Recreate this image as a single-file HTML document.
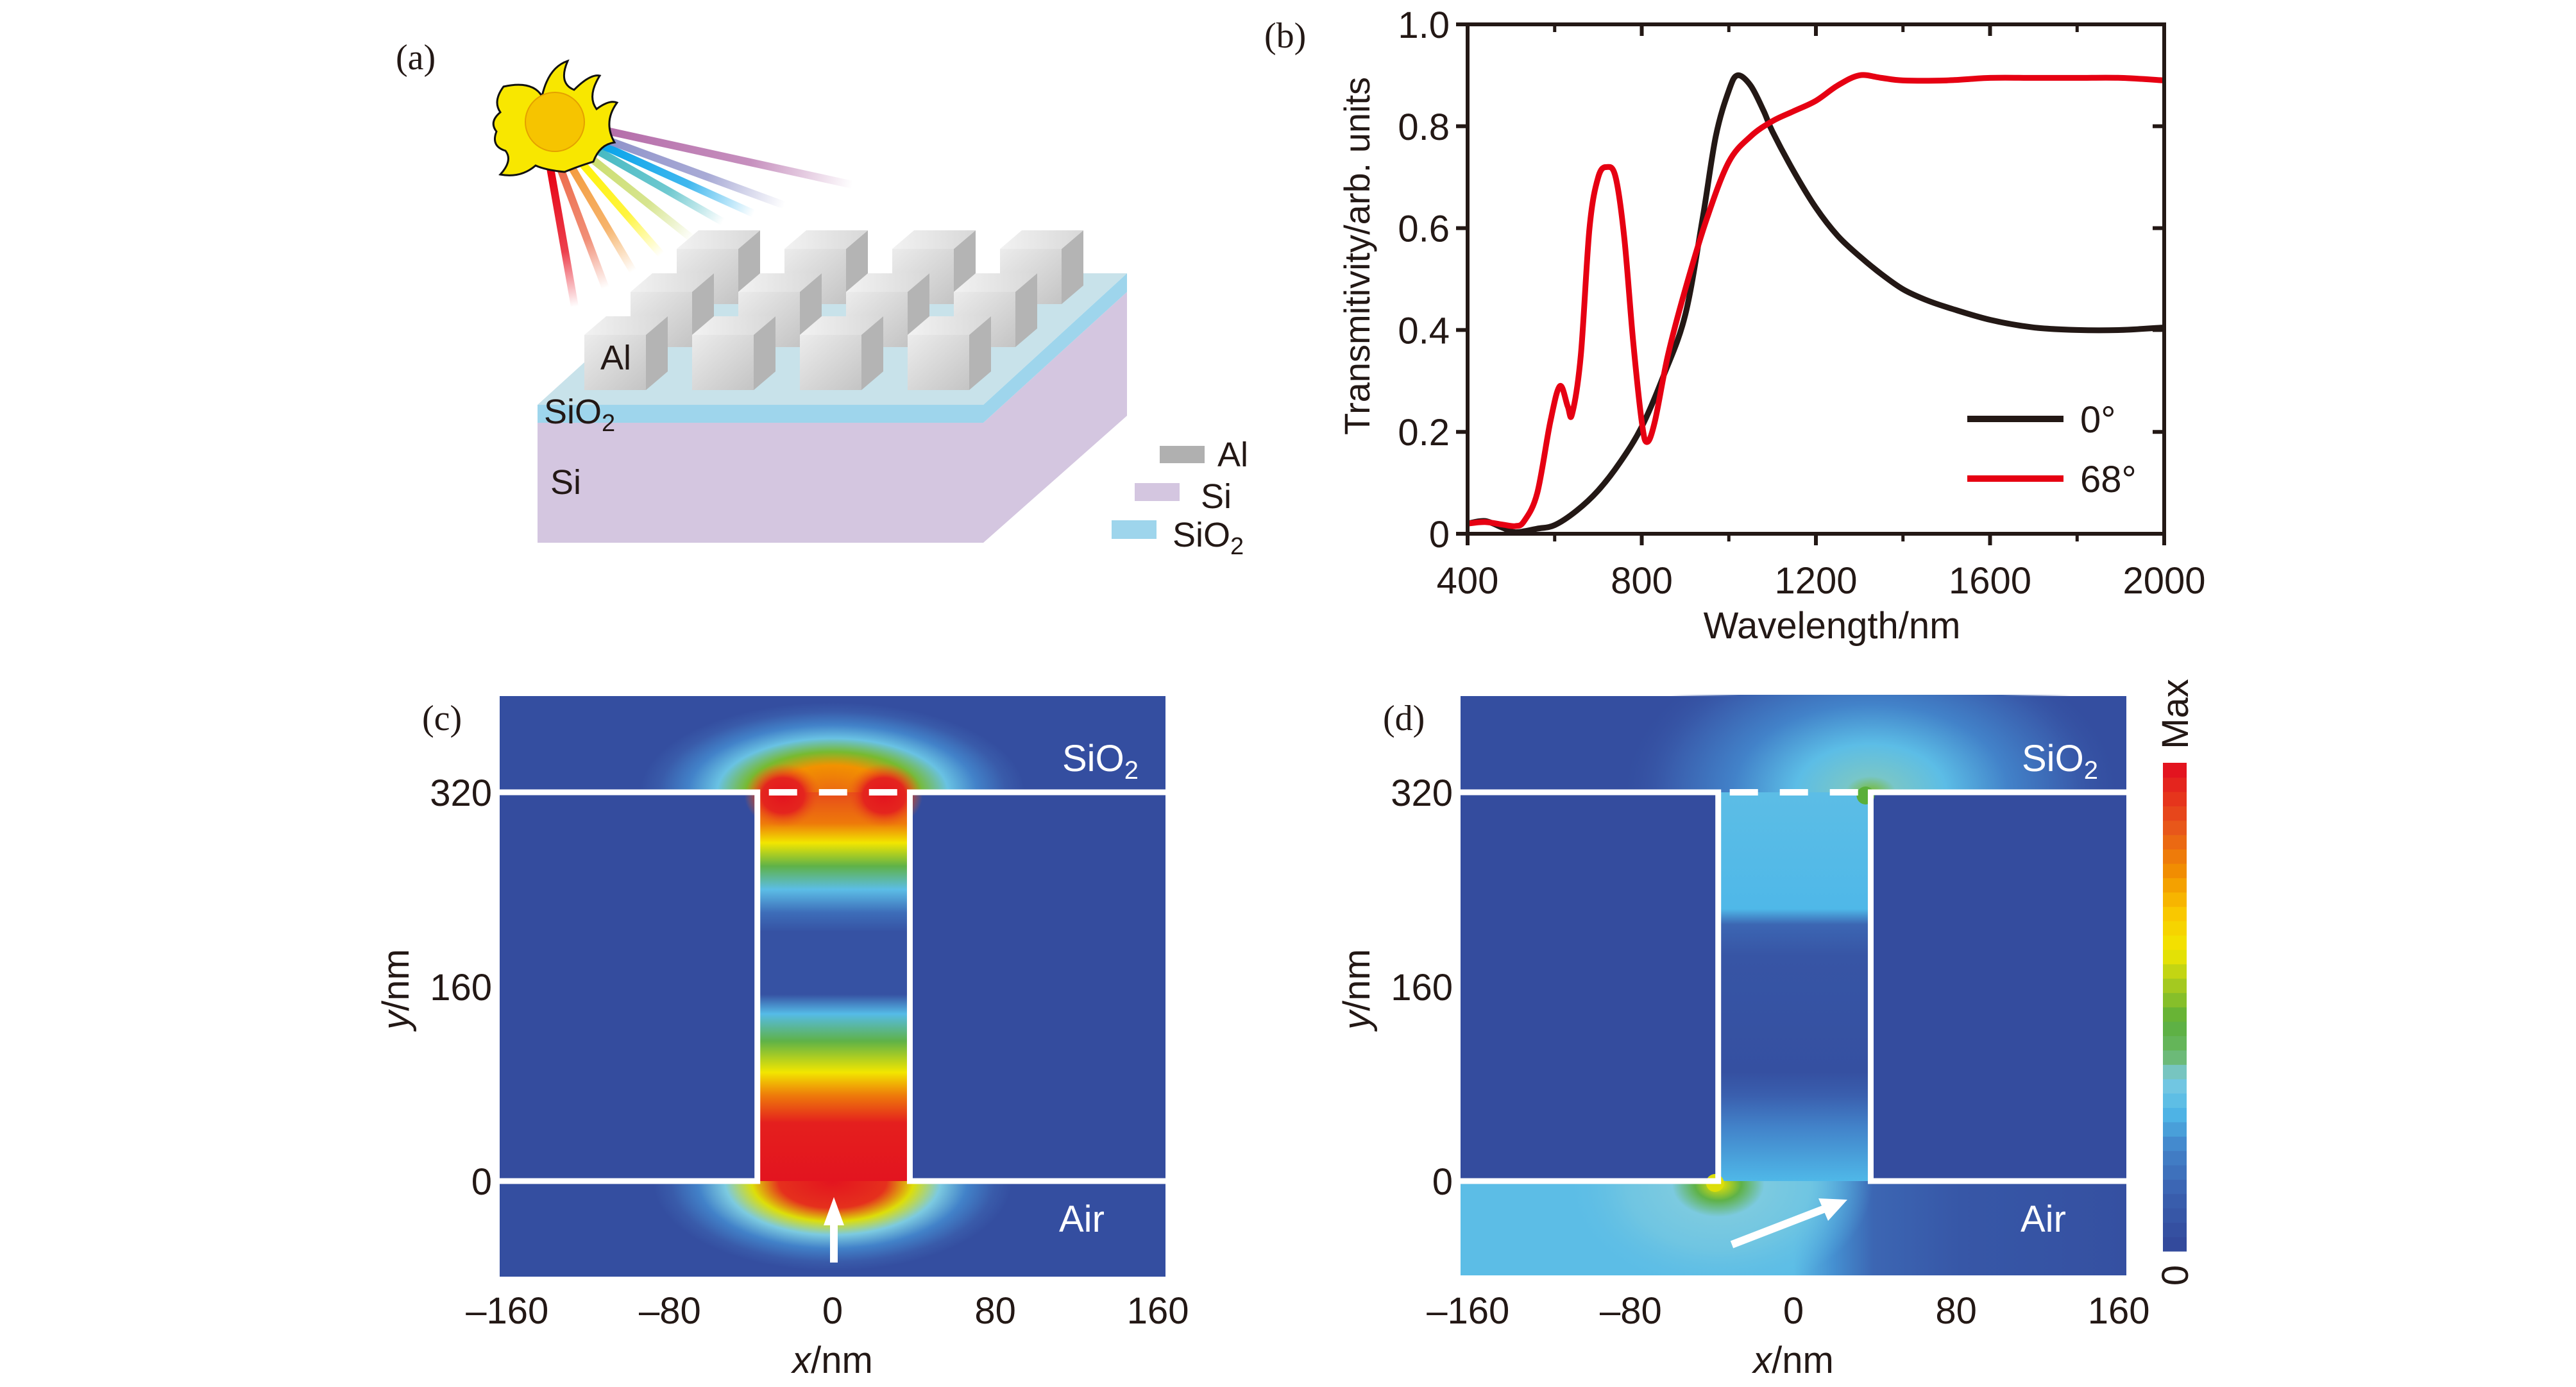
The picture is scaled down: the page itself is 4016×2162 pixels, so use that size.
<!DOCTYPE html>
<html><head><meta charset="utf-8">
<style>
html,body{margin:0;padding:0;background:#fff;}
svg{display:block;}
text{font-family:"Liberation Sans",sans-serif;}
.serif{font-family:"Liberation Serif",serif;}
</style></head>
<body>
<svg id="fig" width="4016" height="2162" viewBox="0 0 4016 2162" xmlns="http://www.w3.org/2000/svg">
<defs>
  <linearGradient id="cubeFront" x1="0" y1="0" x2="1" y2="1">
    <stop offset="0" stop-color="#ececec"/><stop offset="1" stop-color="#c4c4c4"/>
  </linearGradient>
  <linearGradient id="cubeTop" x1="0" y1="0" x2="1" y2="0">
    <stop offset="0" stop-color="#f2f2f2"/><stop offset="1" stop-color="#d8d8d8"/>
  </linearGradient>
  <clipPath id="clipC"><rect x="779" y="1085" width="1038" height="905"/></clipPath>
  <clipPath id="clipD"><rect x="2277" y="1083" width="1038" height="905"/></clipPath>
</defs>

<g id="panelA">
  <text class="serif" x="617" y="108" font-size="56" fill="#231815">(a)</text>
  <g id="rays"></g>
  <g>
    <path d="M785,135 Q830,125 845,150 Q855,105 885,95 Q870,130 895,140 Q920,115 935,118 Q915,150 930,170 Q950,155 962,160 Q940,190 958,222 Q935,225 925,252 Q905,258 880,268 Q850,265 835,258 Q812,278 780,272 Q800,250 788,235 Q765,228 774,205 Q762,190 780,175 Q768,158 785,135 Z" fill="#f8e700" stroke="#111" stroke-width="3"/>
    <circle cx="865" cy="190" r="46" fill="#f6c400" stroke="#e4a000" stroke-width="2"/>
  </g>
  <polygon points="838,659 1533,659 1533,846 838,846" fill="#d4c6e0"/>
  <polygon points="1533,659 1757,455 1757,648 1533,846" fill="#d4c6e0"/>
  <polygon points="838,631 1533,631 1533,659 838,659" fill="#9ed5ec"/>
  <polygon points="1533,631 1757,426 1757,455 1533,659" fill="#9ed5ec"/>
  <polygon points="838,631 1533,631 1757,426 1064,426" fill="#c8e2ea"/>
  <g id="cubes"></g>
  <text x="936" y="576" font-size="54" fill="#231815">Al</text>
  <text x="848" y="660" font-size="54" fill="#231815">SiO<tspan font-size="38" dy="12">2</tspan></text>
  <text x="858" y="770" font-size="54" fill="#231815">Si</text>
  <g>
    <rect x="1808" y="695" width="70" height="27" fill="#b0b0b0"/>
    <text x="1898" y="727" font-size="54" fill="#231815">Al</text>
    <rect x="1769" y="753" width="70" height="28" fill="#d4c6e0"/>
    <text x="1872" y="792" font-size="54" fill="#231815">Si</text>
    <rect x="1733" y="811" width="70" height="29" fill="#9ed5ec"/>
    <text x="1828" y="852" font-size="54" fill="#231815">SiO<tspan font-size="38" dy="12">2</tspan></text>
  </g>
</g>

<g id="panelB"></g>
<g id="panelC"></g>
<g id="panelD"></g>
</svg>

<script>
const xTicksB = [400, 800, 1200, 1600, 2000];
const yTicksB = [0, 0.2, 0.4, 0.6, 0.8, 1.0];
const yTickLabelsB = ["0", "0.2", "0.4", "0.6", "0.8", "1.0"];
const wl0 = [400,440,480,510,560,600,650,700,750,800,850,900,940,970,1000,1020,1050,1080,1100,1150,1200,1250,1300,1350,1400,1450,1500,1600,1700,1800,1900,2000];
const t0  = [0.02,0.025,0.012,0.003,0.01,0.017,0.045,0.085,0.14,0.21,0.31,0.43,0.62,0.78,0.87,0.90,0.88,0.83,0.79,0.71,0.64,0.585,0.545,0.51,0.48,0.46,0.445,0.42,0.405,0.40,0.40,0.405];
const wl68 = [400,440,480,510,530,560,590,612,630,640,660,680,700,720,740,760,780,800,812,830,860,900,950,1000,1050,1100,1150,1200,1250,1300,1350,1400,1500,1600,1700,1800,1900,2000];
const t68  = [0.02,0.023,0.018,0.015,0.025,0.08,0.22,0.29,0.25,0.235,0.35,0.60,0.70,0.72,0.70,0.58,0.38,0.22,0.18,0.22,0.35,0.48,0.62,0.73,0.78,0.81,0.83,0.85,0.88,0.90,0.895,0.89,0.89,0.895,0.895,0.895,0.895,0.89];
const seriesNames = ["0°", "68°"];
const xTicksMap = [-160, -80, 0, 80, 160];
const xTickLabelsMap = ["\u2013160", "\u201380", "0", "80", "160"];
const yTicksMap = [0, 160, 320];
const gapEdgesNm = [-37, 38];

const NS = "http://www.w3.org/2000/svg";
function el(tag, attrs, parent){ const e=document.createElementNS(NS,tag); for(const k in attrs) e.setAttribute(k,attrs[k]); if(parent) parent.appendChild(e); return e; }
function txt(parent, x, y, s, size, anchor, extra){ const t=el('text',Object.assign({x:x,y:y,'font-size':size,'text-anchor':anchor||'start',fill:'#231815'},extra||{}),parent); t.textContent=s; return t; }

(function(){
  const rays=document.getElementById('rays');
  const defs=document.querySelector('defs');
  const R=[["#e60012",858,262,896,478],["#ec6a4a",872,258,944,449],["#f39a3a",886,252,987,423],["#fff100",898,244,1031,397],["#c9dc6a",908,236,1079,372],["#40b7c0",916,226,1127,346],["#00a0e9",920,218,1175,333],["#8c8fc8",924,210,1223,320],["#b36aa8",928,200,1329,288]];
  R.forEach((r,i)=>{
    const g=el('linearGradient',{id:'ray'+i,gradientUnits:'userSpaceOnUse',x1:r[1],y1:r[2],x2:r[3],y2:r[4]},defs);
    el('stop',{offset:0,'stop-color':r[0],'stop-opacity':1},g);
    el('stop',{offset:0.6,'stop-color':r[0],'stop-opacity':0.75},g);
    el('stop',{offset:1,'stop-color':r[0],'stop-opacity':0},g);
    const l=el('line',{x1:r[1],y1:r[2],x2:r[3],y2:r[4],stroke:'url(#ray'+i+')','stroke-width':12},rays);
    
    
  });
  const cubes=document.getElementById('cubes');
  const w=96,h=86,dx=34,dy=-29;
  for(let row=2;row>=0;row--){
    for(let c=0;c<4;c++){
      const x=911+row*72+c*168, y=522-row*67;
      const g=el('g',{},cubes);
      
      
      el('polygon',{points:`${x+w},${y} ${x+w+dx},${y+dy} ${x+w+dx},${y+h+dy} ${x+w},${y+h}`,fill:'#b4b4b4'},g);
      el('polygon',{points:`${x},${y} ${x+dx},${y+dy} ${x+w+dx},${y+dy} ${x+w},${y}`,fill:'url(#cubeTop)'},g);
      el('rect',{x:x,y:y,width:w,height:h,fill:'url(#cubeFront)'},g);
    }
  }
})();

(function(){
  const P=document.getElementById('panelB');
  const L=2288,R=3374,T=38,B=832;
  const sx=v=>L+(v-400)/(2000-400)*(R-L);
  const sy=v=>B-(v-0)/(1-0)*(B-T);
  const lab=txt(P,1971,74,'(b)',56,'start',{class:'serif'});
   
  function path(xs,ys){
    const p=xs.map((x,i)=>[sx(x),sy(ys[i])]);
    let d=`M${p[0][0]},${p[0][1]}`;
    for(let i=0;i<p.length-1;i++){
      const p0=p[Math.max(0,i-1)],p1=p[i],p2=p[i+1],p3=p[Math.min(p.length-1,i+2)];
      const c1=[p1[0]+(p2[0]-p0[0])/6,p1[1]+(p2[1]-p0[1])/6];
      const c2=[p2[0]-(p3[0]-p1[0])/6,p2[1]-(p3[1]-p1[1])/6];
      d+=` C${c1[0]},${c1[1]} ${c2[0]},${c2[1]} ${p2[0]},${p2[1]}`;
    }
    return d;
  }
  const s0=el('path',{d:path(wl0,t0),fill:'none',stroke:'#231815','stroke-width':9,'stroke-linejoin':'round'},P);
   
  const s1=el('path',{d:path(wl68,t68),fill:'none',stroke:'#e60012','stroke-width':9,'stroke-linejoin':'round'},P);
   
  const frame=el('rect',{x:L,y:T,width:R-L,height:B-T,fill:'none',stroke:'#231815','stroke-width':6},P);
   
  xTicksB.forEach(v=>{
    const x=sx(v);
    el('line',{x1:x,y1:B,x2:x,y2:B+18,stroke:'#231815','stroke-width':6},P);
    el('line',{x1:x,y1:T,x2:x,y2:T+18,stroke:'#231815','stroke-width':6},P);
    const t=txt(P,x,925,String(v),58,'middle');
     
  });
  for(let v=600;v<2000;v+=400){ const x=sx(v); el('line',{x1:x,y1:B,x2:x,y2:B+12,stroke:'#231815','stroke-width':5},P); el('line',{x1:x,y1:T,x2:x,y2:T+12,stroke:'#231815','stroke-width':5},P);}
  yTicksB.forEach((v,i)=>{
    const y=sy(v);
    el('line',{x1:L-18,y1:y,x2:L,y2:y,stroke:'#231815','stroke-width':6},P);
    el('line',{x1:R-18,y1:y,x2:R,y2:y,stroke:'#231815','stroke-width':6},P);
    const t=txt(P,L-28,y+21,yTickLabelsB[i],58,'end');
     
  });
  const xt=txt(P,2856,995,'Wavelength/nm',58,'middle');
   
  const yt=txt(P,0,0,'Transmitivity/arb. units',56,'middle',{transform:'translate(2135,399) rotate(-90)'});
   
  const cols=['#231815','#e60012'], ly=[653,746];
  seriesNames.forEach((n,i)=>{
    const g=el('g',{},P);
     
    el('line',{x1:3067,y1:ly[i],x2:3217,y2:ly[i],stroke:cols[i],'stroke-width':10},g);
    txt(g,3243,ly[i]+21,n,58,'start');
  });
})();

const cmStops=[[0,'#334a9c'],[0.1,'#3a5fae'],[0.2,'#4282c9'],[0.28,'#4fb8e8'],[0.35,'#7ccae0'],[0.4,'#6ab86a'],[0.47,'#5aaf3a'],[0.55,'#a8cb1e'],[0.62,'#f2e600'],[0.7,'#f9c700'],[0.78,'#f29200'],[0.88,'#e8561a'],[1,'#e3141f']];
function hex(c){return [1,3,5].map(i=>parseInt(c.substr(i,2),16));}
function cm(t){ t=Math.max(0,Math.min(1,t)); for(let i=0;i<cmStops.length-1;i++){ const a=cmStops[i],b=cmStops[i+1]; if(t<=b[0]){ const f=(t-a[0])/(b[0]-a[0]); const A=hex(a[1]),B=hex(b[1]); return 'rgb('+A.map((v,k)=>Math.round(v+(B[k]-v)*f)).join(',')+')'; } } return cmStops[cmStops.length-1][1]; }
function grad(type,id,attrs,stops){ const defs=document.querySelector('defs'); const g=el(type,Object.assign({id:id},attrs),defs); stops.forEach(s=>el('stop',{offset:s[0],'stop-color':typeof s[1]==='number'?cm(s[1]):s[1],'stop-opacity':s[2]===undefined?1:s[2]},g)); return g; }

function mapPanel(P, L, tag){
  const R=L+1038, T=1085, B=1989;
  const sx=v=>L+519+v*3.17;
  const y0=1841, y320=1235;
  const sy=v=>y0-v*(y0-y320)/320;
  const lab=txt(P,L-121,1138,'('+tag+')',56,'start',{class:'serif'});
   
  xTicksMap.forEach((v,i)=>{ const t=txt(P,sx(v),2063,xTickLabelsMap[i],58,'middle');   });
  yTicksMap.forEach(v=>{ const t=txt(P,L-12,sy(v)+21,String(v),58,'end');   });
  const xt=el('text',{x:sx(0),y:2140,'font-size':58,'text-anchor':'middle',fill:'#231815'},P);
  xt.innerHTML='<tspan font-style="italic">x</tspan>/nm';
   
  const yt=el('text',{'font-size':58,'text-anchor':'middle',fill:'#231815',transform:`translate(${L-142},1542) rotate(-90)`},P);
  yt.innerHTML='<tspan font-style="italic">y</tspan>/nm';
   
  return {L,R,T,B,sx,sy,y0,y320};
}
function structure(P,m){
  const g=el('g',{},P);
   
  const xl=m.sx(gapEdgesNm[0]), xr=m.sx(gapEdgesNm[1]);
  el('polyline',{points:`${m.L},${m.y320} ${xl},${m.y320} ${xl},${m.y0} ${m.L},${m.y0}`,fill:'none',stroke:'#fff','stroke-width':9},g);
  el('polyline',{points:`${m.R},${m.y320} ${xr},${m.y320} ${xr},${m.y0} ${m.R},${m.y0}`,fill:'none',stroke:'#fff','stroke-width':9},g);
  el('line',{x1:xl+18,y1:m.y320,x2:xr-10,y2:m.y320,stroke:'#fff','stroke-width':10,'stroke-dasharray':'44 34'},g);
}

(function(){
  const P=document.getElementById('panelC');
  const m=mapPanel(P,779,'c');
  const g=el('g',{'clip-path':'url(#clipC)'},P);
   
  el('rect',{x:m.L,y:m.T,width:1038,height:905,fill:cm(0.02)},g);
  grad('radialGradient','glowTopC',{},[[0,0.85],[0.3,0.78],[0.45,0.5],[0.6,0.32],[0.75,0.2],[0.9,0.08],[1,0.02]]);
  grad('radialGradient','glowBotC',{},[[0,1],[0.3,0.95],[0.45,0.6],[0.6,0.35],[0.75,0.2],[0.9,0.08],[1,0.02]]);
  grad('radialGradient','redSpot',{},[[0,1,1],[0.55,0.97,1],[1,0.85,0]]);
  el('ellipse',{cx:m.sx(0),cy:m.y320,rx:300,ry:140,fill:'url(#glowTopC)'},g);
  el('ellipse',{cx:m.sx(0),cy:m.y0,rx:280,ry:140,fill:'url(#glowBotC)'},g);
  const xl=m.sx(gapEdgesNm[0]), xr=m.sx(gapEdgesNm[1]);
  el('rect',{x:m.L,y:m.y320,width:xl-m.L,height:m.y0-m.y320,fill:cm(0.01)},g);
  el('rect',{x:xr,y:m.y320,width:m.R-xr,height:m.y0-m.y320,fill:cm(0.01)},g);
  grad('linearGradient','gapC',{x1:0,y1:0,x2:0,y2:1},[[0,0.9],[0.08,0.82],[0.13,0.62],[0.19,0.45],[0.25,0.3],[0.31,0.14],[0.36,0.04],[0.52,0.04],[0.57,0.29],[0.64,0.45],[0.72,0.62],[0.78,0.82],[0.85,0.98],[1,1]]);
  el('rect',{x:xl,y:m.y320,width:xr-xl,height:m.y0-m.y320,fill:'url(#gapC)'},g);
  el('ellipse',{cx:xl+40,cy:m.y320+5,rx:60,ry:50,fill:'url(#redSpot)'},g);
  el('ellipse',{cx:xr-40,cy:m.y320+5,rx:60,ry:50,fill:'url(#redSpot)'},g);
  structure(P,m);
  const s=txt(P,1656,1202,'SiO',58,'start',{fill:'#fff'}); s.innerHTML='SiO<tspan font-size="40" dy="12">2</tspan>';
   
  const a=txt(P,1651,1920,'Air',58,'start',{fill:'#fff'});
   
  const ar=el('g',{},P);
   
  el('line',{x1:1300,y1:1968,x2:1300,y2:1900,stroke:'#fff','stroke-width':12},ar);
  el('polygon',{points:'1300,1866 1284,1910 1316,1910',fill:'#fff'},ar);
})();

(function(){
  const P=document.getElementById('panelD');
  const m=mapPanel(P,2277,'d');
  const g=el('g',{'clip-path':'url(#clipD)'},P);
   
  el('rect',{x:m.L,y:m.T,width:1038,height:905,fill:cm(0.02)},g);
  grad('linearGradient','botD',{x1:0,y1:0,x2:1,y2:0},[[0,0.3],[0.5,0.3],[0.56,0.22],[0.62,0.12],[0.75,0.06],[1,0.03]]);
  el('rect',{x:m.L,y:m.y0,width:1038,height:m.B-m.y0,fill:'url(#botD)'},g);
  grad('radialGradient','hotBotD',{},[[0,0.62],[0.15,0.45],[0.3,0.35],[0.6,0.33],[1,0.3,0]]);
  el('ellipse',{cx:m.sx(-37),cy:m.y0+5,rx:240,ry:170,fill:'url(#hotBotD)'},g);
  grad('radialGradient','hotTopD',{},[[0,0.5],[0.1,0.36],[0.3,0.3],[0.55,0.2],[0.8,0.1],[1,0.03,0]]);
  el('ellipse',{cx:m.sx(38),cy:m.y320,rx:390,ry:250,fill:'url(#hotTopD)'},g);
  const xl=m.sx(gapEdgesNm[0]), xr=m.sx(gapEdgesNm[1]);
  el('rect',{x:m.L,y:m.y320,width:xl-m.L,height:m.y0-m.y320,fill:cm(0.01)},g);
  el('rect',{x:xr,y:m.y320,width:m.R-xr,height:m.y0-m.y320,fill:cm(0.01)},g);
  grad('linearGradient','gapD',{x1:0,y1:0,x2:0,y2:1},[[0,0.3],[0.3,0.28],[0.34,0.12],[0.42,0.05],[0.72,0.03],[0.78,0.1],[0.86,0.2],[1,0.28]]);
  el('rect',{x:xl,y:m.y320,width:xr-xl,height:m.y0-m.y320,fill:'url(#gapD)'},g);
  el('circle',{cx:xr-8,cy:m.y320+5,r:14,fill:cm(0.47)},g);
  el('circle',{cx:xl-5,cy:m.y0+3,r:14,fill:cm(0.6)},g);
  structure(P,m);
  const s=txt(P,3152,1202,'SiO',58,'start',{fill:'#fff'}); s.innerHTML='SiO<tspan font-size="40" dy="12">2</tspan>';
   
  const a=txt(P,3150,1920,'Air',58,'start',{fill:'#fff'});
   
  const ar=el('g',{},P);
   
  el('line',{x1:2700,y1:1940,x2:2845,y2:1884,stroke:'#fff','stroke-width':12},ar);
  el('polygon',{points:'2880,1870 2835,1868 2850,1903',fill:'#fff'},ar);
  const cb=el('g',{},P);
   
  const n=34, top=1189, bot=1950, h=(bot-top)/n;
  for(let i=0;i<n;i++){ el('rect',{x:3372,y:bot-(i+1)*h,width:37,height:h+0.8,fill:cm(i/(n-1))},cb); }
  const mx=txt(cb,0,0,'Max',58,'middle',{transform:'translate(3411,1113) rotate(-90)'});
   
  const z=txt(cb,0,0,'0',58,'middle',{transform:'translate(3411,1988) rotate(-90)'});
   
})();
</script>
</body></html>
